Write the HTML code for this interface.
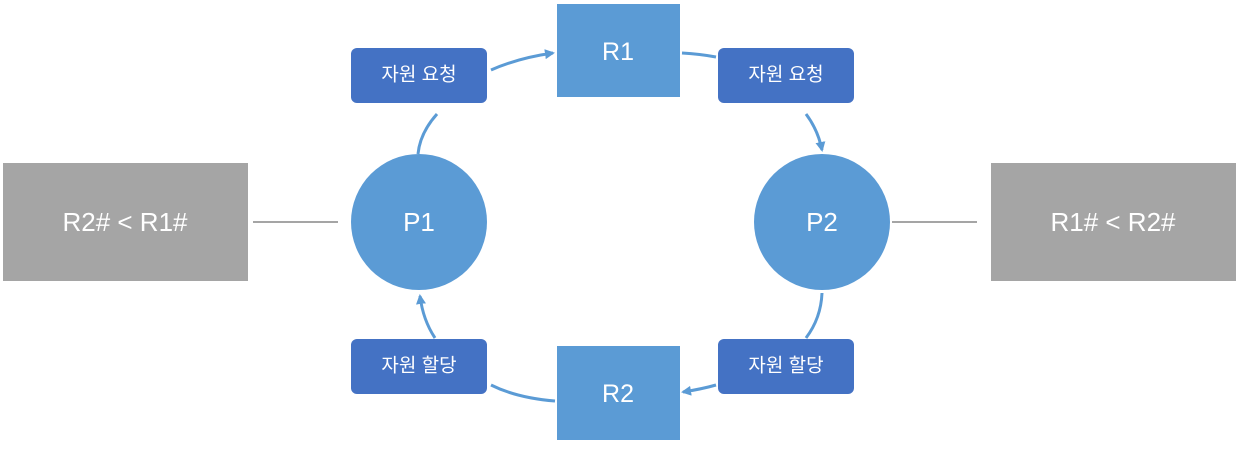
<!DOCTYPE html>
<html><head><meta charset="utf-8"><style>
body{margin:0;background:#fff;}
svg text{font-family:"Liberation Sans","Noto Sans CJK KR",sans-serif;fill:#fff;text-anchor:middle;dominant-baseline:central;}
</style></head><body>
<svg width="1240" height="444" viewBox="0 0 1240 444" xmlns="http://www.w3.org/2000/svg">
<defs><marker id="a" markerWidth="8" markerHeight="8" refX="5" refY="4" orient="auto" markerUnits="userSpaceOnUse"><path d="M0,0 L11,4 L0,8 z" fill="#5B9BD5" transform="scale(0.8)"/></marker>
<marker id="b" markerWidth="12" markerHeight="12" refX="8" refY="5" orient="auto" markerUnits="userSpaceOnUse"><path d="M0,0 L10,5 L0,10 z" fill="#5B9BD5"/></marker></defs>
<rect x="3" y="163" width="245" height="118" fill="#A5A5A5"/>
<rect x="991" y="163" width="245" height="118" fill="#A5A5A5"/>
<text x="125" y="222" font-size="26">R2# &lt; R1#</text>
<text x="1113" y="222" font-size="26">R1# &lt; R2#</text>
<line x1="253" y1="222" x2="338" y2="222" stroke="#A5A5A5" stroke-width="2"/>
<line x1="892" y1="222" x2="977" y2="222" stroke="#A5A5A5" stroke-width="2"/>
<g fill="none" stroke="#5B9BD5" stroke-width="3">
<path d="M437,114 Q420,133 418,154"/>
<path d="M491,70 Q518,58 553,53" marker-end="url(#b)"/>
<path d="M682,53 Q700,54 716,57"/>
<path d="M806,114 Q818,130 822,150" marker-end="url(#b)"/>
<path d="M822,293 Q821,318 806,338"/>
<path d="M716,385 Q702,389 683,392" marker-end="url(#b)"/>
<path d="M555,401 Q517,398 491,385"/>
<path d="M435,338 Q423,320 420,296" marker-end="url(#b)"/>
</g>
<circle cx="419" cy="222" r="68" fill="#5B9BD5"/>
<circle cx="822" cy="222" r="68" fill="#5B9BD5"/>
<text x="419" y="222" font-size="26">P1</text>
<text x="822" y="222" font-size="26">P2</text>
<rect x="557" y="4" width="123" height="93" fill="#5B9BD5"/>
<rect x="557" y="346" width="123" height="94" fill="#5B9BD5"/>
<text x="618" y="52" font-size="25">R1</text>
<text x="618" y="394" font-size="25">R2</text>
<rect x="351" y="48" width="136" height="55" rx="6" fill="#4472C4"/>
<rect x="718" y="48" width="136" height="55" rx="6" fill="#4472C4"/>
<rect x="351" y="339" width="136" height="55" rx="6" fill="#4472C4"/>
<rect x="718" y="339" width="136" height="55" rx="6" fill="#4472C4"/>
<text x="419" y="75" font-size="19">자원 요청</text>
<text x="786" y="75" font-size="19">자원 요청</text>
<text x="419" y="366" font-size="19">자원 할당</text>
<text x="786" y="366" font-size="19">자원 할당</text>
</svg>
</body></html>
